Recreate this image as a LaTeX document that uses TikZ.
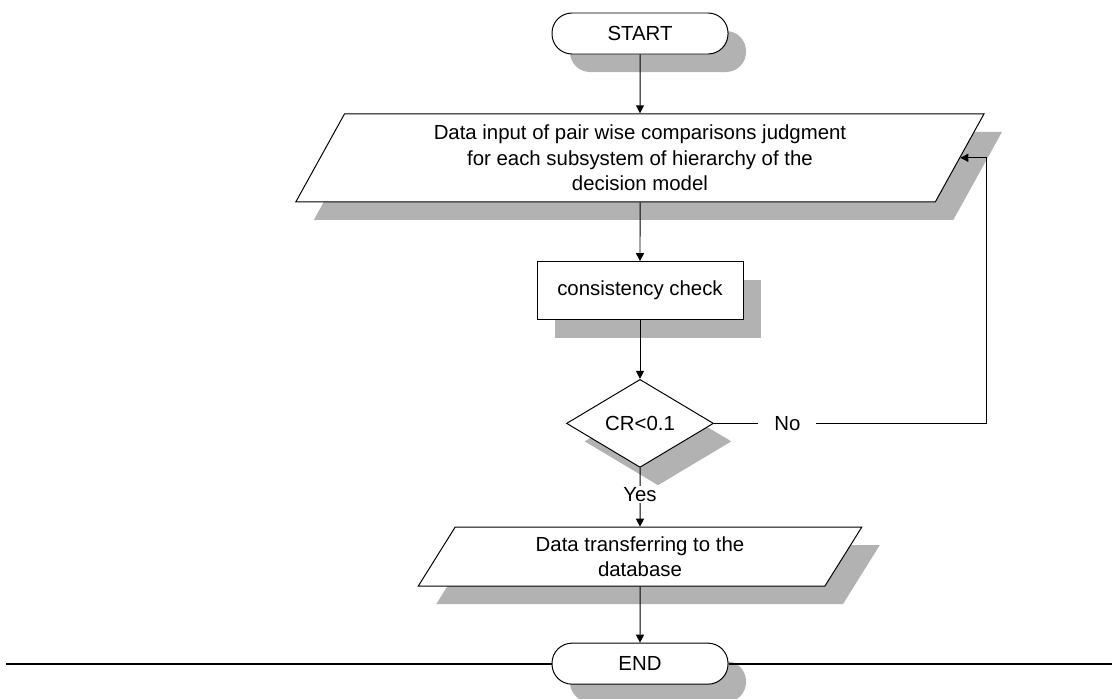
\documentclass[tikz,border=0pt]{standalone}
\usepackage{fontspec}
\setmainfont{Liberation Sans}
\usetikzlibrary{shapes.geometric, shadows, positioning, arrows.meta}

\begin{document}
\begin{tikzpicture}[
    >={Triangle[length=0.2cm, width=0.2cm]}, line width=0.7pt, node distance=1.47cm,
    font=\fontsize{14.5pt}{18.4pt}\selectfont,
    grayshadow/.style={drop shadow={shadow xshift=0.45cm, shadow yshift=-0.45cm, fill=black!30, opacity=1}},
    terminal/.style={rectangle, rounded corners=0.5cm, draw, fill=white, grayshadow, minimum width=4.4cm, minimum height=1.025cm},
    io/.style={trapezium, trapezium left angle=63, trapezium right angle=117, trapezium stretches=true, draw, fill=white, grayshadow, align=center, inner sep=0pt},
    process/.style={rectangle, draw, fill=white, grayshadow, minimum width=5.15cm, minimum height=1.45cm},
    decision/.style={diamond, draw, fill=white, grayshadow, aspect=1.67, inner sep=0pt, minimum width=3.675cm, minimum height=2.2cm},
    tag/.style={fill=white, inner sep=1pt}
]
    \useasboundingbox (0,0) rectangle (27.8,-17.45);

    % Nodes
    \node[terminal] (start) at (16,-0.8375) {START};
    \node[io, minimum width=17.275cm, minimum height=2.2cm] (input) [below=of start]
        {Data input of pair wise comparisons judgment\\for each subsystem of hierarchy of the\\decision model};
    \node[process] (check) [below=of input] {consistency check};
    \node[decision] (decide) [below=of check] {CR<0.1};
    \node[io, minimum width=11.1cm, minimum height=1.475cm] (output) [below=of decide]
        {Data transferring to the\\database};
    \node[terminal] (end) [below=1.4cm of output] {END};

    % Helper points
    \coordinate (turn) at (24.65,0 |- decide);
    \coordinate (lineL) at (0.15,0 |- end);
    \coordinate (lineR) at (27.8,0 |- end);

    % Flow
    \draw[->] (start) -- (input);
    \draw[->] (input) -- (check);
    \draw[->] (check) -- (decide);
    \draw[->] (decide) -- node[tag, pos=0.46] {Yes} (output);
    \draw[->] (output) -- (end);

    % Back to the input when CR is too large
    \draw[->] (decide.east) -- node[tag, inner xsep=0.4cm, pos=0.27] {No} (turn) |- (input.east);

    % Bottom line
    \draw[line width=1.4pt] (lineL) -- (end.west) (end.east) -- (lineR);

\end{tikzpicture}
\end{document}
